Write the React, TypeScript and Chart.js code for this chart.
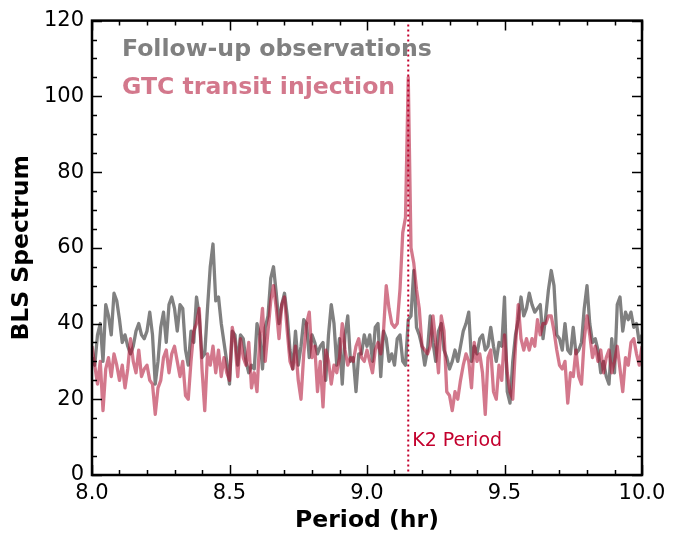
import { useEffect, useRef } from "react";
import { Chart, registerables } from "chart.js";
Chart.register(...registerables);

// Period grid (hr): 8.00 .. 10.00 in steps of 0.01
const PERIOD_START = 8.0;
const PERIOD_STEP = 0.01;

// BLS spectrum of the follow-up observations (grey)
const followUp = [
  31, 29, 37, 40, 30, 45, 42, 37, 48, 46, 41, 35, 37, 34, 32, 34, 38, 40, 37, 36,
  38, 43, 37, 24, 30, 39, 43, 35, 45, 47, 44, 38, 45, 44,
  33, 29, 38, 35, 47, 42, 31, 32, 44, 55, 61, 46, 47, 40, 35, 30, 24, 38, 37, 29,
  37, 36, 30, 27, 29, 28, 40, 37, 28, 39, 42, 52, 55, 48,
  40, 45, 48, 42, 33, 28, 38, 29, 34, 41, 40, 31, 37, 35, 32, 34, 35, 25, 37, 45,
  40, 29, 36, 24, 37, 42, 30, 31, 22, 32, 32, 37, 34,
  37, 30, 39, 40, 26, 38, 36, 30, 32, 29, 36, 37, 30, 29, 41, 42, 54, 39, 37, 34,
  29, 33, 42, 35, 30, 38, 40, 33, 31, 28, 30, 33, 30, 34,
  38, 40, 43, 30, 34, 32, 36, 37, 33, 34, 39, 34, 30, 35, 34, 47, 22, 19, 30, 37,
  41, 47, 42, 44, 48, 45, 43, 44, 45, 36,
  42, 49, 54, 50, 37, 36, 33, 40, 33, 32, 39, 32, 33, 35, 44, 50, 40, 35, 36, 33,
  27, 30, 26, 24, 36, 27, 45, 47, 38, 43, 41, 43, 39, 40, 35, 37,
];

// BLS spectrum with the GTC transit injection (pink)
const gtcInjection = [
  34, 29, 24, 30, 17, 28, 31, 26, 32, 29, 25, 29, 23, 28, 36, 30, 27, 33, 26, 28,
  29, 25, 24, 16, 23, 25, 31, 33, 27, 32, 34, 30, 26, 30,
  21, 20, 30, 38, 40, 44, 28, 17, 32, 29, 34, 27, 33, 26, 31, 27, 25, 39, 35, 26,
  36, 31, 29, 35, 23, 27, 22, 36, 44, 30, 38, 46, 50, 44,
  36, 45, 47, 38, 30, 28, 34, 25, 20, 32, 40, 43, 31, 34, 22, 30, 18, 33, 30, 24,
  29, 27, 31, 40, 33, 29, 31, 30, 34, 36, 31, 30, 33,
  30, 27, 33, 35, 32, 38, 50, 44, 40, 39, 40, 49, 64, 68, 105, 60, 56, 49, 44, 34,
  33, 32, 34, 42, 35, 27, 42, 38, 22, 21, 17, 22, 20, 25,
  29, 32, 30, 23, 35, 30, 32, 27, 16, 31, 33, 22, 20, 29, 25, 37, 27, 22, 20, 34,
  45, 36, 33, 36, 33, 36, 34, 41, 37, 40,
  40, 42, 42, 38, 33, 29, 28, 30, 19, 27, 26, 33, 26, 24, 36, 42, 37, 31, 34, 30,
  33, 27, 31, 33, 27, 30, 34, 28, 22, 31, 29, 35, 36, 32, 29, 34,
];

const seriesNames = ["Follow-up observations", "GTC transit injection"];
const K2_PERIOD = 9.15;
const K2_LABEL = "K2 Period";
const X_MIN = 8.0;
const X_MAX = 10.0;
const X_MAJOR = 0.5;
const X_MINOR = 0.1;
const Y_MIN = 0;
const Y_MAX = 120;
const Y_MAJOR = 20;
const Y_MINOR = 5;
const X_TITLE = "Period (hr)";
const Y_TITLE = "BLS Spectrum";

const GRAY = "rgb(128,128,128)";
const PINK = "rgba(175,10,45,0.55)";
const K2_COLOR = "rgb(195,0,45)";
const FONT = "'DejaVu Sans', sans-serif";

const toPoints = (vals: number[]) =>
  vals.map((v, i) => ({ x: +(PERIOD_START + i * PERIOD_STEP).toFixed(2), y: v }));

const decor = {
  id: "decor",
  afterDatasetsDraw(chart: any) {
    const { ctx, chartArea: a, scales } = chart;
    const x = scales.x;
    const y = scales.y;
    ctx.save();
    // K2 period dotted line
    const kx = x.getPixelForValue(K2_PERIOD);
    ctx.strokeStyle = K2_COLOR;
    ctx.lineWidth = 2;
    ctx.setLineDash([2, 3]);
    ctx.beginPath();
    ctx.moveTo(kx, a.top + 4);
    ctx.lineTo(kx, a.bottom);
    ctx.stroke();
    ctx.setLineDash([]);
    ctx.fillStyle = K2_COLOR;
    ctx.font = `19px ${FONT}`;
    ctx.textAlign = "left";
    ctx.textBaseline = "middle";
    ctx.fillText(K2_LABEL, kx + 4, y.getPixelForValue(8.9));

    // legend text
    ctx.font = `bold 23.6px ${FONT}`;
    ctx.fillStyle = GRAY;
    ctx.fillText(seriesNames[0], a.left + 30, a.top + 29);
    ctx.fillStyle = PINK;
    ctx.fillText(seriesNames[1], a.left + 30, a.top + 67);
    ctx.restore();
  },
  afterDraw(chart: any) {
    const { ctx, chartArea: a, scales } = chart;
    const x = scales.x;
    const y = scales.y;
    ctx.save();
    ctx.strokeStyle = "#000";
    ctx.lineWidth = 1.5;
    ctx.beginPath();
    const nx = Math.round((X_MAX - X_MIN) / X_MINOR);
    for (let i = 0; i <= nx; i++) {
      const v = X_MIN + i * X_MINOR;
      const major = Math.abs(v / X_MAJOR - Math.round(v / X_MAJOR)) < 1e-6;
      const len = major ? 10 : 5;
      const px = Math.round(x.getPixelForValue(v)) + 0.5;
      ctx.moveTo(px, a.bottom);
      ctx.lineTo(px, a.bottom - len);
      ctx.moveTo(px, a.top);
      ctx.lineTo(px, a.top + len);
    }
    const ny = Math.round((Y_MAX - Y_MIN) / Y_MINOR);
    for (let i = 0; i <= ny; i++) {
      const v = Y_MIN + i * Y_MINOR;
      const major = v % Y_MAJOR === 0;
      const len = major ? 10 : 5;
      const py = Math.round(y.getPixelForValue(v)) + 0.5;
      ctx.moveTo(a.left, py);
      ctx.lineTo(a.left + len, py);
      ctx.moveTo(a.right, py);
      ctx.lineTo(a.right - len, py);
    }
    ctx.stroke();
    ctx.lineWidth = 2.5;
    ctx.strokeRect(a.left, a.top, a.right - a.left, a.bottom - a.top);

    // axis titles
    ctx.fillStyle = "#000";
    ctx.font = `bold 23.5px ${FONT}`;
    ctx.textAlign = "center";
    ctx.textBaseline = "middle";
    ctx.fillText(X_TITLE, (a.left + a.right) / 2, 521);
    ctx.translate(22, (a.top + a.bottom) / 2);
    ctx.rotate(-Math.PI / 2);
    ctx.fillText(Y_TITLE, 0, 0);
    ctx.restore();
  },
};

export default function App() {
  const ref = useRef<HTMLCanvasElement | null>(null);
  useEffect(() => {
    if (!ref.current) return;
    Chart.defaults.font.family = FONT;
    const chart = new Chart(ref.current, {
      type: "line",
      data: {
        datasets: [
          {
            label: seriesNames[0],
            data: toPoints(followUp),
            borderColor: GRAY,
            borderWidth: 3.3,
            pointRadius: 0,
            tension: 0,
            borderJoinStyle: "round",
            order: 1,
          },
          {
            label: seriesNames[1],
            data: toPoints(gtcInjection),
            borderColor: PINK,
            borderWidth: 3.3,
            pointRadius: 0,
            tension: 0,
            borderJoinStyle: "round",
            order: 0,
          },
        ],
      },
      options: {
        animation: false,
        responsive: false,
        layout: { padding: { left: 0, top: 18, right: 43, bottom: 0 } },
        plugins: { legend: { display: false }, tooltip: { enabled: false } },
        scales: {
          x: {
            type: "linear",
            min: X_MIN,
            max: X_MAX,
            grid: { display: false, drawTicks: false },
            border: { display: false },
            ticks: {
              stepSize: X_MAJOR,
              color: "#000",
              font: { size: 21 },
              padding: 6,
              callback: (v: any) => Number(v).toFixed(1),
            },
            afterFit: (s: any) => {
              s.height = 60;
            },
          },
          y: {
            type: "linear",
            min: Y_MIN,
            max: Y_MAX,
            grid: { display: false, drawTicks: false },
            border: { display: false },
            ticks: {
              stepSize: Y_MAJOR,
              color: "#000",
              font: { size: 21 },
              padding: 8,
            },
            afterFit: (s: any) => {
              s.width = 92;
            },
          },
        },
      },
      plugins: [decor],
    });
    return () => chart.destroy();
  }, []);
  return (
    <div style={{ position: "fixed", left: 0, top: 0, width: 685, height: 535, background: "#fff" }}>
      <canvas ref={ref} width={685} height={535} />
    </div>
  );
}
